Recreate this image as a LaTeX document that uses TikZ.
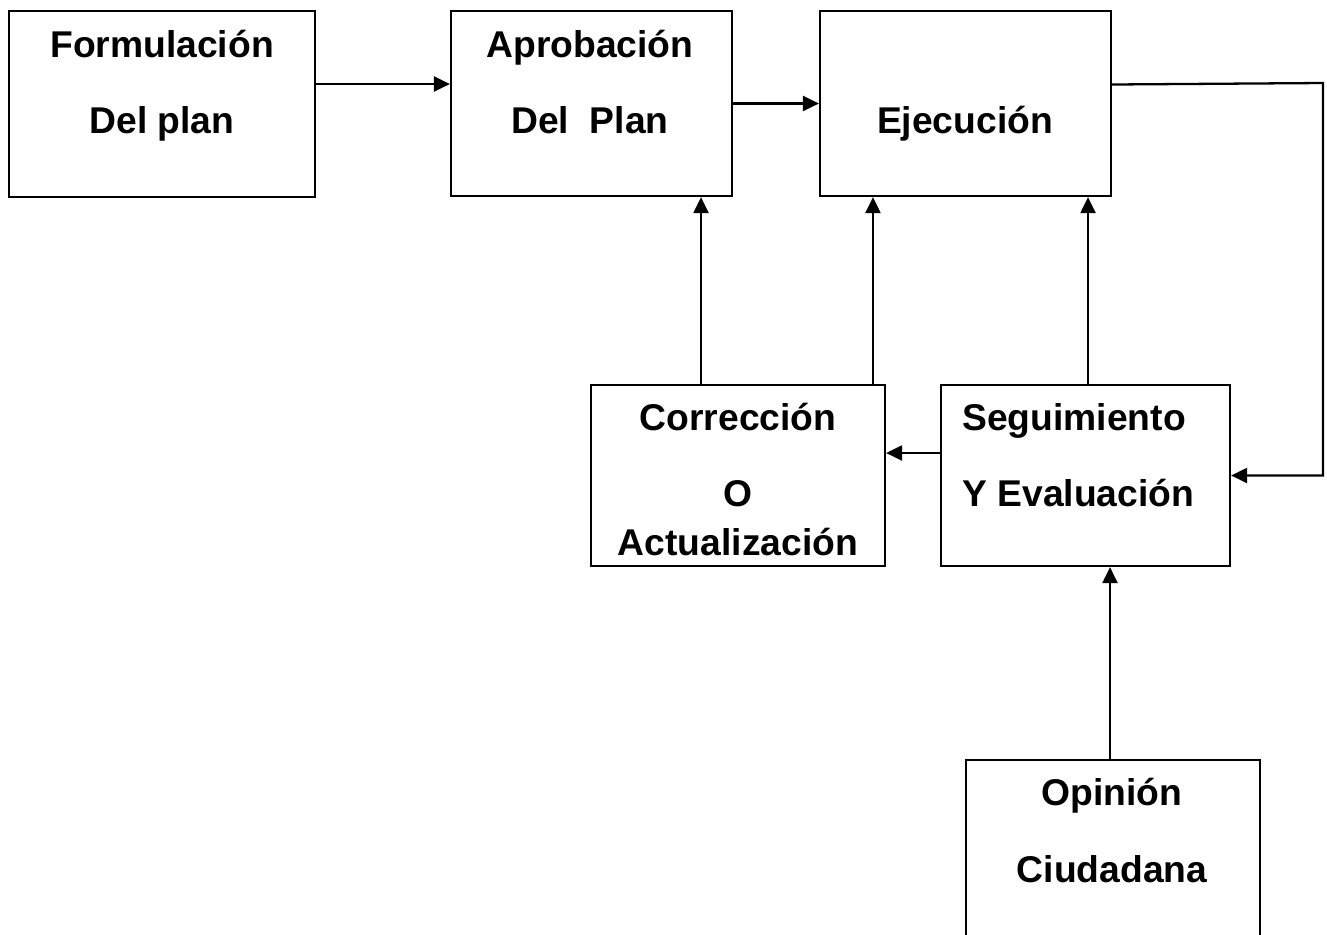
\documentclass[tikz,border=0pt]{standalone}
\usepackage{fontspec}
\setmainfont{Liberation Sans}
\usetikzlibrary{arrows.meta}

\begin{document}
\begin{tikzpicture}[x=0.02cm,y=-0.02cm,
    caja/.style={draw, line width=1.3pt, inner sep=0pt},
    texto/.style={inner sep=0pt, anchor=base, font=\fontsize{21.2}{25}\selectfont\bfseries},
    flecha/.style={line width=1.3pt, -{Triangle[length=0.32cm,width=0.3cm]}}]
    \useasboundingbox (0,0) rectangle (1327,934);
    \clip (0,0) rectangle (1327,934);
    % cajas
    \node[caja, minimum width=6.12cm, minimum height=3.72cm] (form) at (162,104) {};
    \node[caja, minimum width=5.62cm, minimum height=3.70cm] (aprob) at (591.5,103.5) {};
    \node[caja, minimum width=5.82cm, minimum height=3.70cm] (ejec) at (965.5,103.5) {};
    \node[caja, minimum width=5.88cm, minimum height=3.62cm] (corr) at (738,475.5) {};
    \node[caja, minimum width=5.78cm, minimum height=3.62cm] (segu) at (1085.5,475.5) {};
    \node[caja, minimum width=5.88cm, minimum height=4.00cm] (opin) at (1113,860) {};
    % textos
    \node[texto] (formA) at (162,57) {Formulación};
    \node[texto] (formB) at (162,133) {Del plan};
    \node[texto] (aprobA) at (590,57) {Aprobación};
    \node[texto] (aprobB) at (590,133) {Del\ \ Plan};
    \node[texto] (ejecA) at (965,133) {Ejecución};
    \node[texto] (corrA) at (738,430) {Corrección};
    \node[texto] (corrB) at (738,506) {O};
    \node[texto] (corrC) at (738,555) {Actualización};
    \node[texto, anchor=base west] (seguA) at (962,430) {Seguimiento};
    \node[texto, anchor=base west] (seguB) at (962,506) {Y Evaluación};
    \node[texto] (opinA) at (1112,805) {Opinión};
    \node[texto] (opinB) at (1112,882) {Ciudadana};
    % flechas
    \coordinate (esq) at (1323,83);
    \draw[flecha] ([yshift=0.4cm]form.east) -- ([yshift=0.4cm]form.east -| aprob.west);
    \draw[flecha] (aprob.east) -- (ejec.west);
    \draw[flecha] ([yshift=0.38cm]ejec.east) -- (esq) -- (esq |- segu.east) -- (segu.east);
    \draw[flecha] ([xshift=-0.74cm]corr.north) -- ([xshift=-0.74cm]corr.north |- aprob.south);
    \draw[flecha] ([xshift=2.7cm]corr.north) -- ([xshift=2.7cm]corr.north |- ejec.south);
    \draw[flecha] ([xshift=0.05cm]segu.north) -- ([xshift=0.05cm]segu.north |- ejec.south);
    \draw[flecha] ([yshift=0.45cm]segu.west) -- ([yshift=0.45cm]segu.west -| corr.east);
    \draw[flecha] ([xshift=-0.06cm]opin.north) -- ([xshift=-0.06cm]opin.north |- segu.south);
\end{tikzpicture}
\end{document}
